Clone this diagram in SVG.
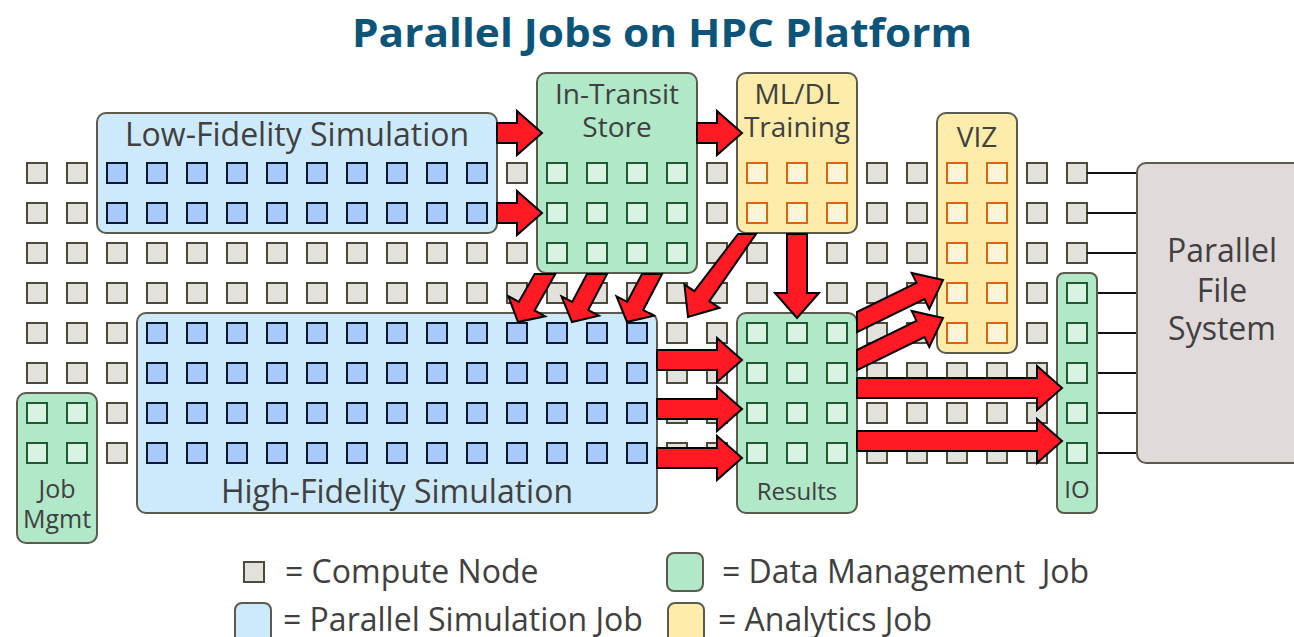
<svg xmlns="http://www.w3.org/2000/svg" width="1294" height="637" viewBox="0 0 1294 637">
<style>
.box{stroke:#5b5a4c;stroke-width:2}
.sim{fill:#cdeafd}
.dm{fill:#b0e8c8}
.an{fill:#feecaa}
.pfs{fill:#e1dadb}
.t{font-family:"Open Sans","Liberation Sans",sans-serif;fill:#404040;text-anchor:middle}
.lg{font-family:"Open Sans","Liberation Sans",sans-serif;fill:#404040;font-size:32px}
.arr{fill:#ff1a24;stroke:#000;stroke-width:2;stroke-linejoin:miter}
.wire{stroke:#111;stroke-width:2}
</style>
<defs>
<pattern id="pGray" patternUnits="userSpaceOnUse" x="17" y="153" width="40" height="40"><rect x="10" y="10" width="20" height="20" fill="#e2e1db" stroke="#4d4a3c" stroke-width="2"/></pattern>
<pattern id="pBlue" patternUnits="userSpaceOnUse" x="17" y="153" width="40" height="40"><rect x="10" y="10" width="20" height="20" fill="#a9c9fa" stroke="#0d1a2e" stroke-width="2"/></pattern>
<pattern id="pGreen" patternUnits="userSpaceOnUse" x="17" y="153" width="40" height="40"><rect x="10" y="10" width="20" height="20" fill="#d8f3e2" stroke="#1f5a30" stroke-width="2"/></pattern>
<pattern id="pOrange" patternUnits="userSpaceOnUse" x="17" y="153" width="40" height="40"><rect x="10" y="10" width="20" height="20" fill="#fff5d6" stroke="#d9650e" stroke-width="2"/></pattern>
</defs>
<rect width="1294" height="637" fill="#fff"/>
<text x="662" y="47" font-family="'Open Sans','Liberation Sans',sans-serif" font-weight="bold" font-size="40" fill="#0c5478" text-anchor="middle" textLength="620" lengthAdjust="spacingAndGlyphs">Parallel Jobs on HPC Platform</text>

<g id="compute-grid"><rect x="17" y="153" width="1080" height="320" fill="url(#pGray)"/></g>

<g id="pfs-links">
<line class="wire" x1="1087" y1="173" x2="1137" y2="173"/>
<line class="wire" x1="1087" y1="213" x2="1137" y2="213"/>
<line class="wire" x1="1087" y1="253" x2="1137" y2="253"/>
<line class="wire" x1="1087" y1="293" x2="1137" y2="293"/>
<line class="wire" x1="1087" y1="333" x2="1137" y2="333"/>
<line class="wire" x1="1087" y1="373" x2="1137" y2="373"/>
<line class="wire" x1="1087" y1="413" x2="1137" y2="413"/>
<line class="wire" x1="1087" y1="453" x2="1137" y2="453"/>
</g>

<g id="low-fidelity">
<rect class="box sim" x="97" y="113" width="400" height="120" rx="9"/>
<rect x="97" y="153" width="400" height="80" fill="url(#pBlue)"/>
<text class="t" x="297" y="146" font-size="32">Low-Fidelity Simulation</text>
</g>

<g id="in-transit">
<rect class="box dm" x="537" y="73" width="160" height="200" rx="9"/>
<rect x="537" y="153" width="160" height="120" fill="url(#pGreen)"/>
<text class="t" x="617" y="104" font-size="28">In-Transit</text>
<text class="t" x="617" y="137" font-size="28">Store</text>
</g>

<g id="mldl">
<rect class="box an" x="737" y="73" width="120" height="160" rx="9"/>
<rect x="737" y="153" width="120" height="80" fill="url(#pOrange)"/>
<text class="t" x="797" y="104" font-size="28">ML/DL</text>
<text class="t" x="797" y="137" font-size="28">Training</text>
</g>

<g id="viz">
<rect class="box an" x="937" y="113" width="80" height="240" rx="9"/>
<rect x="937" y="153" width="80" height="200" fill="url(#pOrange)"/>
<text class="t" x="977" y="147" font-size="28">VIZ</text>
</g>

<g id="io">
<rect class="box dm" x="1057" y="273" width="40" height="240" rx="7"/>
<rect x="1057" y="273" width="40" height="200" fill="url(#pGreen)"/>
<text class="t" x="1077" y="498" font-size="24">IO</text>
</g>

<g id="parallel-fs">
<rect class="box pfs" x="1137" y="163" width="180" height="300" rx="9"/>
<text class="t" x="1222" y="262" font-size="32">Parallel</text>
<text class="t" x="1222" y="302" font-size="32">File</text>
<text class="t" x="1222" y="340" font-size="32">System</text>
</g>

<g id="high-fidelity">
<rect class="box sim" x="137" y="313" width="520" height="200" rx="9"/>
<rect x="137" y="313" width="520" height="160" fill="url(#pBlue)"/>
<text class="t" x="397" y="503" font-size="32">High-Fidelity Simulation</text>
</g>

<g id="results">
<rect class="box dm" x="737" y="313" width="120" height="200" rx="9"/>
<rect x="737" y="313" width="120" height="160" fill="url(#pGreen)"/>
<text class="t" x="797" y="500" font-size="24">Results</text>
</g>

<g id="job-mgmt">
<rect class="box dm" x="17" y="393" width="80" height="150" rx="9"/>
<rect x="17" y="393" width="80" height="80" fill="url(#pGreen)"/>
<text class="t" x="57" y="498" font-size="25">Job</text>
<text class="t" x="57" y="528" font-size="25">Mgmt</text>
</g>

<g id="connectors">
<polygon class="arr" points="497,123 517,123 517,111 542,133 517,155 517,143 497,143"/>
<polygon class="arr" points="497,203 517,203 517,191 542,213 517,235 517,223 497,223"/>
<polygon class="arr" points="697,123 717,123 717,111 742,133 717,155 717,143 697,143"/>
<polygon class="arr" points="534.7,274 518.8,301.9 508.3,296.1 518,322 545.1,316.3 534.6,310.5 555.3,274"/>
<polygon class="arr" points="587,274 572.2,301.9 561.5,296.4 572,322 598.9,315.6 588.2,310.1 607.1,274"/>
<polygon class="arr" points="642,274 627.2,301.9 616.5,296.4 627,322 653.9,315.6 643.2,310.1 662.1,274"/>
<polygon class="arr" points="738,234 694.4,291.2 684.4,284.6 688,317 719.4,307.8 709.4,301.2 756,234"/>
<polygon class="arr" points="787,234 787,293 775,293 797,318 819,293 807,293 807,234"/>
<polygon class="arr" points="657,350 717,350 717,338 742,360 717,382 717,370 657,370"/>
<polygon class="arr" points="657,399 717,399 717,387 742,409 717,431 717,419 657,419"/>
<polygon class="arr" points="657,448 717,448 717,436 742,458 717,480 717,468 657,468"/>
<polygon class="arr" points="857,312 916.5,282.9 911.7,273 943,280 929.3,309 924.5,299.1 857,332.1"/>
<polygon class="arr" points="857,350 916.5,320.9 911.7,311 943,318 929.3,347 924.5,337.1 857,370.1"/>
<polygon class="arr" points="857,378 1037,378 1037,366 1062,388 1037,410 1037,398 857,398"/>
<polygon class="arr" points="857,431 1037,431 1037,419 1062,441 1037,463 1037,451 857,451"/>
</g>

<g id="legend">
<rect x="244" y="562" width="20" height="20" fill="#e2e1db" stroke="#4d4a3c" stroke-width="2"/>
<text class="lg" x="285" y="583">= Compute Node</text>
<rect class="box sim" x="235" y="603" width="36" height="44" rx="7"/>
<text class="lg" x="283" y="631">= Parallel Simulation Job</text>
<rect class="box dm" x="667" y="553" width="36" height="38" rx="7"/>
<text class="lg" x="722" y="583" style="white-space:pre">= Data Management  Job</text>
<rect class="box an" x="668" y="603" width="36" height="44" rx="7"/>
<text class="lg" x="718" y="631">= Analytics Job</text>
</g>
</svg>
